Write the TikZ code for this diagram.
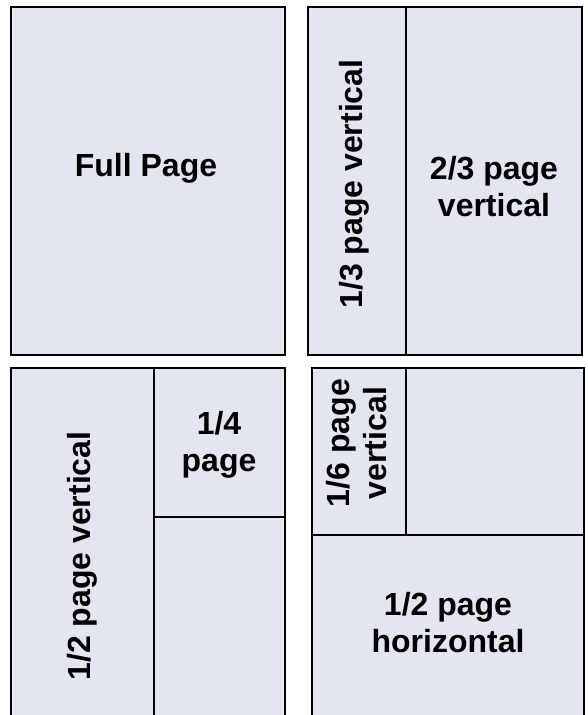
\documentclass[tikz,border=0pt]{standalone}
\usepackage{fontspec}
\setmainfont{Liberation Sans}
\definecolor{panelfill}{RGB}{227,230,240}

\begin{document}
\begin{tikzpicture}[
            x = 1pt, y = -1pt,
            every node/.style={font=\bfseries\fontsize{32}{37}\selectfont, align=center, inner sep=0pt},
            panel/.style={draw=black, line width = 2.8pt, fill=panelfill},
            divider/.style={line width = 2.8pt},
            ]

        \clip (0,0) rectangle (587,715);
        \useasboundingbox (0,0) rectangle (587,715);

        % the four panels
        \draw[panel] (11,7) rectangle (285,355);
        \draw[panel] (308,7) rectangle (582,355);
        \draw[panel] (11,368) rectangle (285,740);
        \draw[panel] (312,368) rectangle (584,740);

        % dividers
        \coordinate (tr top) at (406,7);
        \coordinate (tr bot) at (406,355);
        \coordinate (bl top) at (154,368);
        \coordinate (bl bot) at (154,740);
        \coordinate (bl mid) at (154,517);
        \coordinate (bl right) at (285,517);
        \coordinate (br top) at (406,368);
        \coordinate (br mid) at (406,535);
        \coordinate (br left) at (312,535);
        \coordinate (br right) at (584,535);

        \draw[divider] (tr top) -- (tr bot);
        \draw[divider] (bl top) -- (bl bot);
        \draw[divider] (bl mid) -- (bl right);
        \draw[divider] (br top) -- (br mid);
        \draw[divider] (br left) -- (br right);

        % labels
        \node (full) at (146,168) {Full Page};
        \node[rotate=90] (third) at (354,184) {1/3 page vertical};
        \node (twothirds) at (494,187) {2/3 page\\vertical};
        \node[rotate=90] (halfv) at (82,556) {1/2 page vertical};
        \node (quarter) at (219,445) {1/4\\page};
        \node[rotate=90] (sixth) at (357,443) {1/6 page\\vertical};
        \node (halfh) at (448,623) {1/2 page\\horizontal};
    \end{tikzpicture}
\end{document}
